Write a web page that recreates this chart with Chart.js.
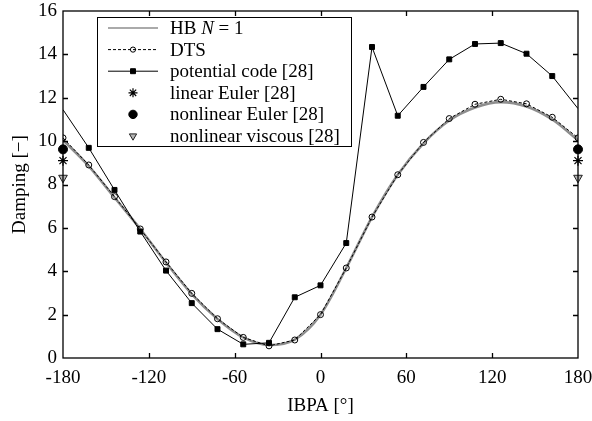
<!DOCTYPE html>
<html>
<head>
<meta charset="utf-8">
<script src="https://cdn.jsdelivr.net/npm/chart.js@4.4.0/dist/chart.umd.min.js"></script>
<style>
  html, body { margin: 0; padding: 0; background: #fff; }
  #wrap { width: 592px; height: 421px; }
</style>
</head>
<body>
<div id="wrap"><canvas id="damping" width="592" height="421"></canvas></div>
<script>
// Interblade phase angle grid (deg) and damping values
const ibpa = [-180, -162, -144, -126, -108, -90, -72, -54, -36, -18, 0, 18, 36, 54, 72, 90, 108, 126, 144, 162, 180];
const hbN1 = [10.05, 8.85, 7.4, 5.95, 4.4, 2.95, 1.8, 0.95, 0.6, 0.85, 2.0, 4.15, 6.5, 8.45, 9.9, 10.95, 11.55, 11.8, 11.6, 11.0, 10.05];
const dts = [10.15, 8.9, 7.44, 5.95, 4.43, 2.98, 1.81, 0.95, 0.56, 0.83, 2.0, 4.15, 6.5, 8.45, 9.94, 11.04, 11.7, 11.93, 11.72, 11.1, 10.15];
const potential = [11.45, 9.69, 7.75, 5.83, 4.03, 2.53, 1.33, 0.63, 0.7, 2.8, 3.35, 5.3, 14.34, 11.17, 12.5, 13.77, 14.48, 14.52, 14.03, 13.0, 11.5];

// Reference results, only available at the ends of the IBPA range
const edgeIbpa = [-180, 180];
const linearEuler = [9.1, 9.1];
const nonlinearEuler = [9.62, 9.62];
const nonlinearViscous = [8.31, 8.31];

const xTicks = [-180, -120, -60, 0, 60, 120, 180];
const yTicks = [0, 2, 4, 6, 8, 10, 12, 14, 16];

const SERIF = "'Liberation Serif', 'DejaVu Serif', serif";
const FONT_SIZE = 19;

const pairs = (xs, ys) => xs.map((x, i) => ({ x: x, y: ys[i] }));

// Squares are hidden at the two ends of the potential code curve
const potentialRadius = ibpa.map((v, i) => (i === 0 || i === ibpa.length - 1) ? 0 : 3.5);

// Box, inward ticks on all four sides
const framePlugin = {
    id: 'frame',
    afterDatasetsDraw(chart) {
        const { ctx, chartArea: a, scales: { x, y } } = chart;
        const t = 5;
        ctx.save();
        ctx.strokeStyle = '#000';
        ctx.lineWidth = 1.3;
        ctx.strokeRect(a.left, a.top, a.right - a.left, a.bottom - a.top);
        ctx.beginPath();
        x.ticks.forEach(tk => {
            const px = Math.round(x.getPixelForValue(tk.value)) + 0.5;
            if (px <= a.left + 1 || px >= a.right - 1) return;
            ctx.moveTo(px, a.bottom); ctx.lineTo(px, a.bottom - t);
            ctx.moveTo(px, a.top); ctx.lineTo(px, a.top + t);
        });
        y.ticks.forEach(tk => {
            const py = Math.round(y.getPixelForValue(tk.value)) + 0.5;
            if (py <= a.top + 1 || py >= a.bottom - 1) return;
            ctx.moveTo(a.left, py); ctx.lineTo(a.left + t, py);
            ctx.moveTo(a.right, py); ctx.lineTo(a.right - t, py);
        });
        ctx.stroke();
        ctx.restore();
    }
};

// Boxed legend with line samples and markers
const boxLegendPlugin = {
    id: 'boxLegend',
    afterDraw(chart) {
        const { ctx } = chart;
        const box = { left: 97, top: 17, right: 351, bottom: 146 };
        const rowH = 21.6;
        const sx0 = 108, sx1 = 158, mx = 133, tx = 170;
        ctx.save();
        ctx.fillStyle = '#fff';
        ctx.fillRect(box.left, box.top, box.right - box.left, box.bottom - box.top);
        ctx.strokeStyle = '#000';
        ctx.lineWidth = 1;
        ctx.strokeRect(box.left + 0.5, box.top + 0.5, box.right - box.left, box.bottom - box.top);

        chart.data.datasets.forEach((ds, i) => {
            const cy = box.top + 11 + i * rowH;
            if (ds.showLine !== false) {
                ctx.save();
                ctx.strokeStyle = ds.borderColor;
                ctx.lineWidth = ds.legendLineWidth || ds.borderWidth;
                ctx.setLineDash(ds.borderDash || []);
                ctx.beginPath();
                ctx.moveTo(sx0, cy);
                ctx.lineTo(sx1, cy);
                ctx.stroke();
                ctx.restore();
            }
            if (ds.legendMarker) {
                ctx.save();
                ctx.setLineDash([]);
                ctx.fillStyle = ds.pointBackgroundColor;
                ctx.strokeStyle = ds.pointBorderColor;
                ctx.lineWidth = ds.pointBorderWidth;
                Chart.helpers.drawPoint(ctx, {
                    pointStyle: ds.pointStyle,
                    rotation: ds.pointRotation || 0,
                    radius: ds.legendRadius,
                    borderWidth: ds.pointBorderWidth
                }, mx, cy);
                ctx.restore();
            }
            // label text, with italic N for the harmonic balance entry
            ctx.fillStyle = '#000';
            ctx.textBaseline = 'middle';
            ctx.textAlign = 'left';
            let px = tx;
            const parts = ds.labelParts || [[ds.label, false]];
            parts.forEach(([txt, italic]) => {
                ctx.font = (italic ? 'italic ' : '') + FONT_SIZE + 'px ' + SERIF;
                ctx.fillText(txt, px, cy + 1);
                px += ctx.measureText(txt).width;
            });
        });
        ctx.restore();
    }
};

new Chart(document.getElementById('damping'), {
    type: 'line',
    data: {
        datasets: [
            {
                label: 'HB N = 1',
                labelParts: [['HB ', false], ['N', true], [' = 1', false]],
                data: pairs(ibpa, hbN1),
                borderColor: '#8e8e8e',
                borderWidth: 2.6,
                legendLineWidth: 1.6,
                pointRadius: 0,
                cubicInterpolationMode: 'monotone',
                order: 3
            },
            {
                label: 'DTS',
                data: pairs(ibpa, dts),
                borderColor: '#000',
                borderWidth: 1,
                borderDash: [3, 2],
                pointStyle: 'circle',
                pointRadius: 3,
                pointBackgroundColor: 'rgba(255,255,255,0)',
                pointBorderColor: '#000',
                pointBorderWidth: 1,
                legendMarker: true,
                legendRadius: 2.6,
                order: 2
            },
            {
                label: 'potential code [28]',
                data: pairs(ibpa, potential),
                borderColor: '#000',
                borderWidth: 1,
                pointStyle: 'rect',
                pointRadius: potentialRadius,
                pointBackgroundColor: '#000',
                pointBorderColor: '#000',
                pointBorderWidth: 1,
                legendMarker: true,
                legendRadius: 3.5,
                order: 1
            },
            {
                label: 'linear Euler [28]',
                data: pairs(edgeIbpa, linearEuler),
                showLine: false,
                borderColor: '#000',
                pointStyle: 'star',
                pointRadius: 5,
                pointBackgroundColor: '#000',
                pointBorderColor: '#000',
                pointBorderWidth: 1.2,
                legendMarker: true,
                legendRadius: 4.5,
                clip: false,
                order: 0
            },
            {
                label: 'nonlinear Euler [28]',
                data: pairs(edgeIbpa, nonlinearEuler),
                showLine: false,
                borderColor: '#000',
                pointStyle: 'circle',
                pointRadius: 4.5,
                pointBackgroundColor: '#000',
                pointBorderColor: '#000',
                pointBorderWidth: 1,
                legendMarker: true,
                legendRadius: 4.2,
                clip: false,
                order: 0
            },
            {
                label: 'nonlinear viscous [28]',
                data: pairs(edgeIbpa, nonlinearViscous),
                showLine: false,
                borderColor: '#000',
                pointStyle: 'triangle',
                pointRotation: 180,
                rotation: 180,
                pointRadius: 5,
                pointBackgroundColor: '#b4b4b4',
                pointBorderColor: '#222',
                pointBorderWidth: 1,
                legendMarker: true,
                legendRadius: 4.2,
                clip: false,
                order: 0
            }
        ]
    },
    options: {
        responsive: false,
        animation: false,
        devicePixelRatio: 1,
        layout: { padding: { top: 11, right: 14, left: 0, bottom: 0 } },
        plugins: {
            legend: { display: false },
            tooltip: { enabled: false }
        },
        scales: {
            x: {
                type: 'linear',
                min: -180,
                max: 180,
                afterBuildTicks: scale => { scale.ticks = xTicks.map(v => ({ value: v })); },
                afterFit: scale => { scale.height = 63; scale.paddingLeft = 0; scale.paddingRight = 0; },
                grid: { display: false, drawTicks: false },
                border: { display: false },
                ticks: {
                    color: '#000',
                    padding: 9,
                    maxRotation: 0,
                    font: { family: SERIF, size: FONT_SIZE },
                    callback: v => String(v)
                },
                title: {
                    display: true,
                    text: 'IBPA [°]',
                    color: '#000',
                    font: { family: SERIF, size: FONT_SIZE },
                    padding: { top: 0, bottom: 4 }
                }
            },
            y: {
                type: 'linear',
                min: 0,
                max: 16,
                afterBuildTicks: scale => { scale.ticks = yTicks.map(v => ({ value: v })); },
                afterFit: scale => { scale.width = 63; scale.paddingTop = 0; scale.paddingBottom = 0; },
                grid: { display: false, drawTicks: false },
                border: { display: false },
                ticks: {
                    color: '#000',
                    padding: 6,
                    font: { family: SERIF, size: FONT_SIZE },
                    callback: v => String(v)
                },
                title: {
                    display: true,
                    text: 'Damping [−]',
                    color: '#000',
                    font: { family: SERIF, size: FONT_SIZE },
                    padding: { top: 9, bottom: 0 }
                }
            }
        }
    },
    plugins: [framePlugin, boxLegendPlugin]
});
</script>
</body>
</html>
